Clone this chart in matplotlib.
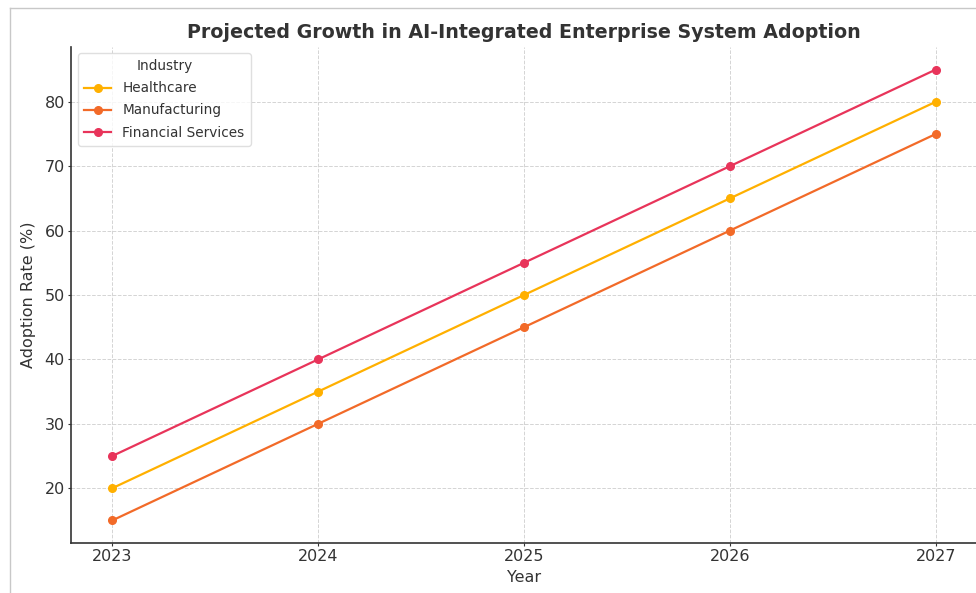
import matplotlib.pyplot as plt
from matplotlib.lines import Line2D

# data
years = [2023, 2024, 2025, 2026, 2027]
healthcare = [20, 35, 50, 65, 80]
manufacturing = [15, 30, 45, 60, 75]
financial = [25, 40, 55, 70, 85]

series = [("Healthcare", healthcare, "#FFB000"),
          ("Manufacturing", manufacturing, "#F26A28"),
          ("Financial Services", financial, "#E8345A")]

txt = "#333333"

fig = plt.figure(figsize=(9.76, 5.93), dpi=100)
ax = fig.add_axes([71/976, 50/593, 906/976, 496/593])

for name, vals, col in series:
    ax.plot(years, vals, marker="o", markersize=5.5, linewidth=1.6,
            color=col, label=name)

ax.set_xlim(2022.8, 2027.2)
ax.set_ylim(11.5, 88.5)
ax.set_xticks(years)
ax.set_yticks([20, 30, 40, 50, 60, 70, 80])
ax.grid(True, linestyle="--", color="#d4d4d4", linewidth=0.7)
ax.set_axisbelow(True)

for s in ["top", "right"]:
    ax.spines[s].set_visible(False)
for s in ["left", "bottom"]:
    ax.spines[s].set_color(txt)
    ax.spines[s].set_linewidth(1.2)

ax.tick_params(colors=txt, labelsize=11.5, length=2.5, pad=2)
ax.set_xlabel("Year", fontsize=11.5, color=txt, labelpad=4)
ax.set_ylabel("Adoption Rate (%)", fontsize=11.5, color=txt, labelpad=6)

fig.text(524/976, 1 - 32/593, "Projected Growth in AI-Integrated Enterprise System Adoption",
         ha="center", va="center", fontsize=13.7, fontweight="bold", color=txt)

leg = ax.legend(title="Industry", loc="upper left", fontsize=9.8,
                title_fontsize=9.8, frameon=True, borderpad=0.45,
                labelspacing=0.6, handlelength=2, borderaxespad=0,
                bbox_to_anchor=(7/906, 1 - 6/496))
leg.get_frame().set_edgecolor("#d8d8d8")
for t in leg.get_texts():
    t.set_color(txt)
leg.get_title().set_color(txt)

# screenshot border
fig.add_artist(Line2D([10/976, 10/976], [0, 1 - 8/593], color="#c8c8c8", linewidth=1))
fig.add_artist(Line2D([10/976, 1], [1 - 8/593, 1 - 8/593], color="#c8c8c8", linewidth=1))

fig.savefig("out.png", dpi=100)
